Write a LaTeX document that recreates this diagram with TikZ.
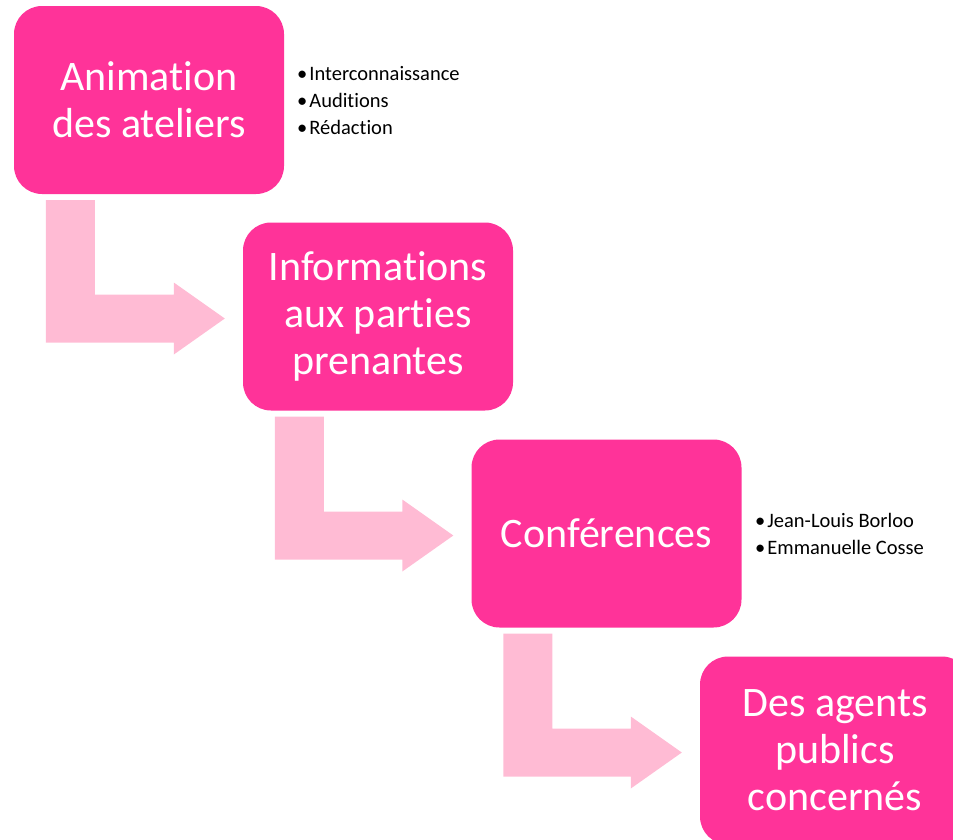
\documentclass[tikz,border=0pt]{standalone}
\usepackage{fontspec}
\setmainfont{Carlito}[Ligatures={NoCommon}]
\usetikzlibrary{calc}
\definecolor{boxpink}{RGB}{255,51,153}
\definecolor{arrowpink}{RGB}{255,187,212}
\tikzset{
  stepbox/.style={fill=boxpink, draw=none, rounded corners=28pt,
    minimum width=270pt, minimum height=188pt, inner sep=0pt,
    text=white, align=center, font=\fontsize{42}{47}\selectfont},
  bullets/.style={anchor=west, inner sep=0pt, align=left, text=black,
    font=\fontsize{20.5}{27}\selectfont},
  bentarrow/.style={fill=arrowpink, draw=none}
}
\newcommand{\bentarrow}[2]{%
  \fill[bentarrow] let \p1=(#1.south west), \p2=(#2.west) in
    (\x1+32pt,\y1-6pt) -- (\x1+81pt,\y1-6pt) -- (\x1+81pt,\y2-2pt+24pt)
    -- (\x2-69pt,\y2-2pt+24pt) -- (\x2-69pt,\y2-2pt+36pt)
    -- (\x2-18pt,\y2-2pt) -- (\x2-69pt,\y2-2pt-36pt)
    -- (\x2-69pt,\y2-2pt-24pt) -- (\x1+32pt,\y2-2pt-24pt) -- cycle;}
\begin{document}
\begin{tikzpicture}[x=1pt,y=-1pt]
\useasboundingbox (0,0) rectangle (953,839);
\clip (0,0) rectangle (953,839);
\node[stepbox] (b1) at (149,100) {Animation\\des ateliers};
\node[stepbox] (b2) at (378,316.5) {Informations\\aux parties\\prenantes};
\node[stepbox] (b3) at (606.5,533.5) {Conférences};
\node[stepbox] (b4) at (835,750.5) {Des agents\\publics\\concernés};
\bentarrow{b1}{b2}
\bentarrow{b2}{b3}
\bentarrow{b3}{b4}
\node[bullets] (l1) at (297,101) {•\hspace{2pt}Interconnaissance\\•\hspace{2pt}Auditions\\•\hspace{2pt}Rédaction};
\node[bullets] (l3) at (755,534) {•\hspace{2pt}Jean-Louis Borloo\\•\hspace{2pt}Emmanuelle Cosse};
\end{tikzpicture}
\end{document}
